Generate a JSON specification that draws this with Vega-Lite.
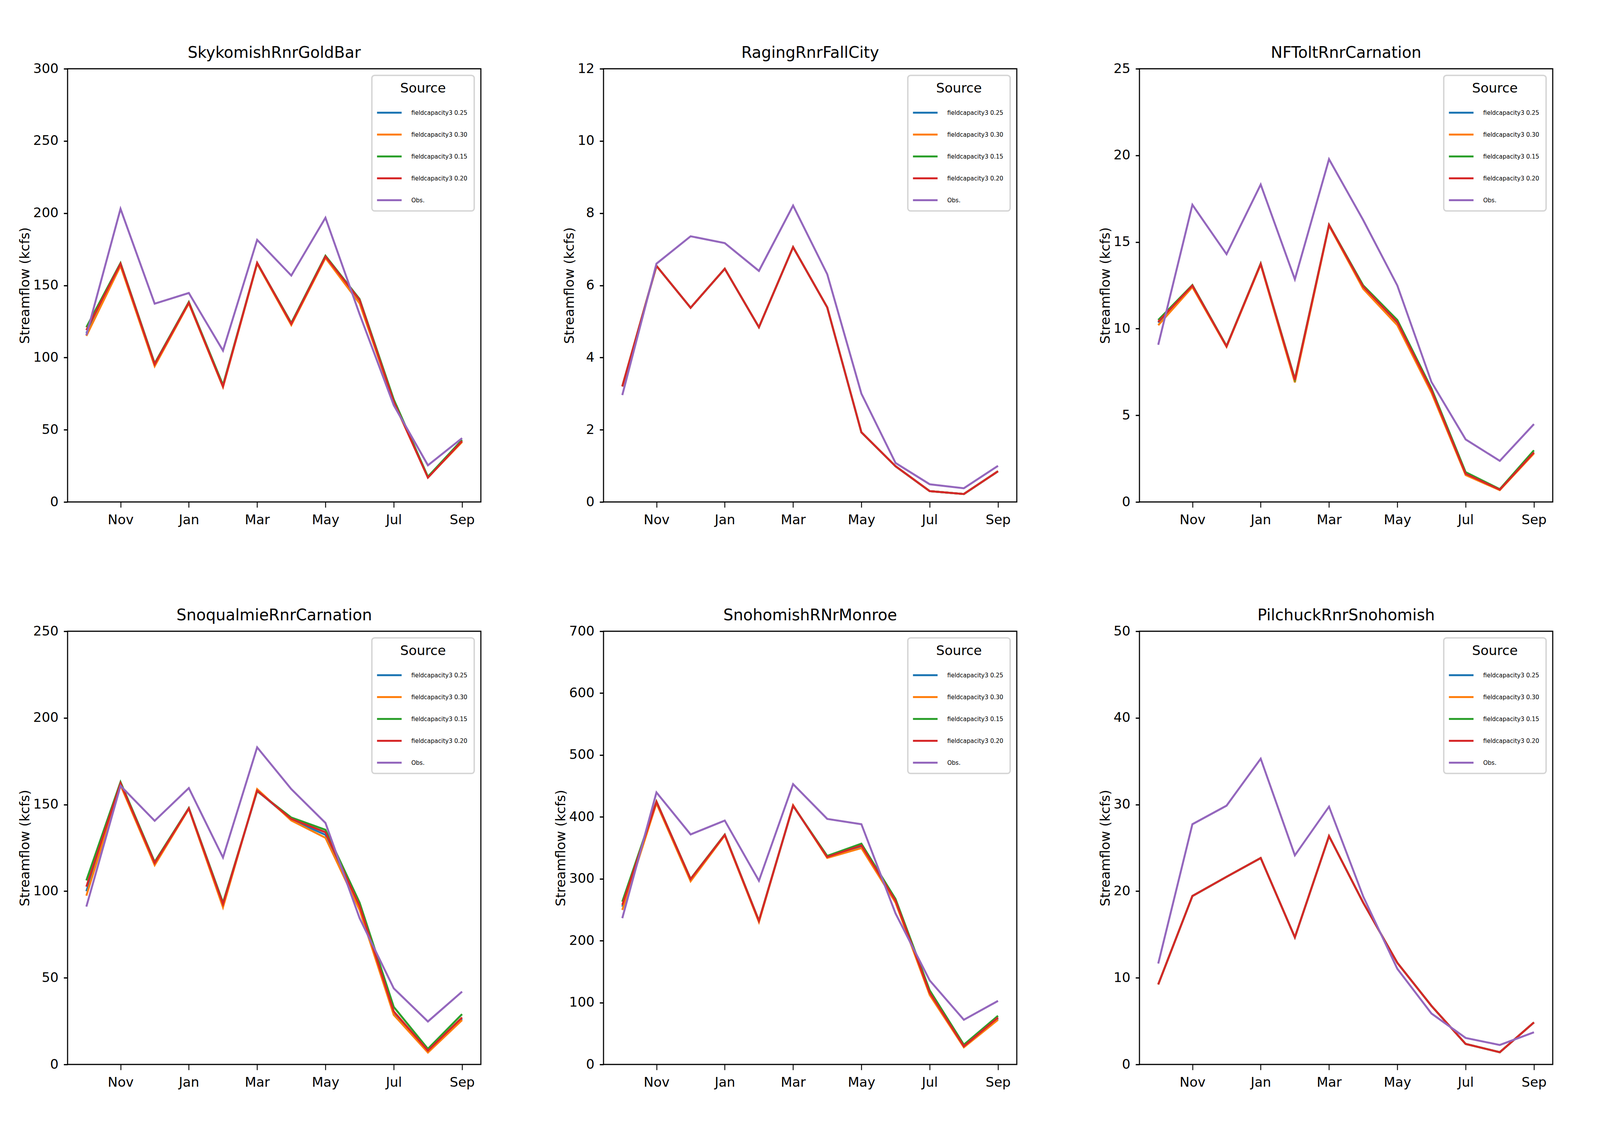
{
"$schema": "https://vega.github.io/schema/vega-lite/v6.json",
"background": "white",
"padding": {"left": 46, "top": 114, "right": 4, "bottom": 4},
"columns": 3,
"bounds": "flush",
"spacing": {"row": 331, "column": 314},
"resolve": {"scale": {"color": "independent", "y": "independent", "x": "independent"}, "legend": {"color": "independent"}},
"config": {
 "font": "DejaVu Sans",
 "view": {"stroke": "black", "strokeWidth": 2.8},
 "axis": {"domain": false, "grid": false, "tickColor": "black", "labelFont": "DejaVu Sans", "labelFontSize": 34, "labelColor": "black", "titleFont": "DejaVu Sans", "titleFontSize": 34, "titleFontWeight": "normal", "titleColor": "black"},
 "axisX": {"labelAngle": 0, "tickSize": 14, "tickWidth": 2.3, "labelPadding": 15},
 "axisY": {"tickSize": 10, "tickWidth": 3.2, "labelPadding": 13.5, "titlePadding": 3},
 "title": {"font": "DejaVu Sans", "fontSize": 40, "fontWeight": "normal", "color": "black", "anchor": "middle", "offset": 3, "baseline": "alphabetic"},
 "legend": {"orient": "top-right", "offset": 17, "padding": 17, "fillColor": "white", "strokeColor": "#d4d4d4", "strokeWidth": 3.5, "cornerRadius": 7, "titleFont": "DejaVu Sans", "titleFontSize": 34, "titleFontWeight": "normal", "titleColor": "black", "titleAnchor": "middle", "titlePadding": 31.5, "labelFont": "DejaVu Sans", "labelFontSize": 15, "labelColor": "black", "labelLimit": 300, "symbolType": "M-3,0H3", "symbolSize": 441, "symbolStrokeWidth": 5, "rowPadding": 33, "symbolOffset": 14.7, "labelOffset": 43.3}
},
"datasets": {
"sky": [
{"month":"Oct","source":"fieldcapacity3 0.25","flow":117},{"month":"Nov","source":"fieldcapacity3 0.25","flow":164.5},{"month":"Dec","source":"fieldcapacity3 0.25","flow":95},{"month":"Jan","source":"fieldcapacity3 0.25","flow":138},{"month":"Feb","source":"fieldcapacity3 0.25","flow":80},{"month":"Mar","source":"fieldcapacity3 0.25","flow":165.5},{"month":"Apr","source":"fieldcapacity3 0.25","flow":123.5},{"month":"May","source":"fieldcapacity3 0.25","flow":170},{"month":"Jun","source":"fieldcapacity3 0.25","flow":139.5},{"month":"Jul","source":"fieldcapacity3 0.25","flow":70},{"month":"Aug","source":"fieldcapacity3 0.25","flow":17},{"month":"Sep","source":"fieldcapacity3 0.25","flow":42},
{"month":"Oct","source":"fieldcapacity3 0.30","flow":115},{"month":"Nov","source":"fieldcapacity3 0.30","flow":163.5},{"month":"Dec","source":"fieldcapacity3 0.30","flow":94},{"month":"Jan","source":"fieldcapacity3 0.30","flow":137.5},{"month":"Feb","source":"fieldcapacity3 0.30","flow":79.5},{"month":"Mar","source":"fieldcapacity3 0.30","flow":165},{"month":"Apr","source":"fieldcapacity3 0.30","flow":122.5},{"month":"May","source":"fieldcapacity3 0.30","flow":169},{"month":"Jun","source":"fieldcapacity3 0.30","flow":137.5},{"month":"Jul","source":"fieldcapacity3 0.30","flow":69},{"month":"Aug","source":"fieldcapacity3 0.30","flow":17},{"month":"Sep","source":"fieldcapacity3 0.30","flow":41.5},
{"month":"Oct","source":"fieldcapacity3 0.15","flow":121},{"month":"Nov","source":"fieldcapacity3 0.15","flow":165.5},{"month":"Dec","source":"fieldcapacity3 0.15","flow":96},{"month":"Jan","source":"fieldcapacity3 0.15","flow":138.5},{"month":"Feb","source":"fieldcapacity3 0.15","flow":81},{"month":"Mar","source":"fieldcapacity3 0.15","flow":165.5},{"month":"Apr","source":"fieldcapacity3 0.15","flow":124},{"month":"May","source":"fieldcapacity3 0.15","flow":170.5},{"month":"Jun","source":"fieldcapacity3 0.15","flow":140.5},{"month":"Jul","source":"fieldcapacity3 0.15","flow":71},{"month":"Aug","source":"fieldcapacity3 0.15","flow":17.5},{"month":"Sep","source":"fieldcapacity3 0.15","flow":43},
{"month":"Oct","source":"fieldcapacity3 0.20","flow":119},{"month":"Nov","source":"fieldcapacity3 0.20","flow":165},{"month":"Dec","source":"fieldcapacity3 0.20","flow":95.4},{"month":"Jan","source":"fieldcapacity3 0.20","flow":138},{"month":"Feb","source":"fieldcapacity3 0.20","flow":80},{"month":"Mar","source":"fieldcapacity3 0.20","flow":165.6},{"month":"Apr","source":"fieldcapacity3 0.20","flow":123.4},{"month":"May","source":"fieldcapacity3 0.20","flow":170},{"month":"Jun","source":"fieldcapacity3 0.20","flow":140},{"month":"Jul","source":"fieldcapacity3 0.20","flow":69.5},{"month":"Aug","source":"fieldcapacity3 0.20","flow":16.8},{"month":"Sep","source":"fieldcapacity3 0.20","flow":42.2},
{"month":"Oct","source":"Obs.","flow":115.5},{"month":"Nov","source":"Obs.","flow":203},{"month":"Dec","source":"Obs.","flow":137.3},{"month":"Jan","source":"Obs.","flow":144.7},{"month":"Feb","source":"Obs.","flow":104.8},{"month":"Mar","source":"Obs.","flow":181.5},{"month":"Apr","source":"Obs.","flow":156.8},{"month":"May","source":"Obs.","flow":196.8},{"month":"Jun","source":"Obs.","flow":130},{"month":"Jul","source":"Obs.","flow":67},{"month":"Aug","source":"Obs.","flow":25.4},{"month":"Sep","source":"Obs.","flow":44.2}
],
"rag": [
{"month":"Oct","source":"fieldcapacity3 0.25","flow":3.2},{"month":"Nov","source":"fieldcapacity3 0.25","flow":6.54},{"month":"Dec","source":"fieldcapacity3 0.25","flow":5.38},{"month":"Jan","source":"fieldcapacity3 0.25","flow":6.46},{"month":"Feb","source":"fieldcapacity3 0.25","flow":4.84},{"month":"Mar","source":"fieldcapacity3 0.25","flow":7.06},{"month":"Apr","source":"fieldcapacity3 0.25","flow":5.39},{"month":"May","source":"fieldcapacity3 0.25","flow":1.93},{"month":"Jun","source":"fieldcapacity3 0.25","flow":0.99},{"month":"Jul","source":"fieldcapacity3 0.25","flow":0.3},{"month":"Aug","source":"fieldcapacity3 0.25","flow":0.22},{"month":"Sep","source":"fieldcapacity3 0.25","flow":0.85},
{"month":"Oct","source":"fieldcapacity3 0.30","flow":3.2},{"month":"Nov","source":"fieldcapacity3 0.30","flow":6.54},{"month":"Dec","source":"fieldcapacity3 0.30","flow":5.38},{"month":"Jan","source":"fieldcapacity3 0.30","flow":6.46},{"month":"Feb","source":"fieldcapacity3 0.30","flow":4.84},{"month":"Mar","source":"fieldcapacity3 0.30","flow":7.06},{"month":"Apr","source":"fieldcapacity3 0.30","flow":5.39},{"month":"May","source":"fieldcapacity3 0.30","flow":1.93},{"month":"Jun","source":"fieldcapacity3 0.30","flow":0.99},{"month":"Jul","source":"fieldcapacity3 0.30","flow":0.3},{"month":"Aug","source":"fieldcapacity3 0.30","flow":0.22},{"month":"Sep","source":"fieldcapacity3 0.30","flow":0.85},
{"month":"Oct","source":"fieldcapacity3 0.15","flow":3.2},{"month":"Nov","source":"fieldcapacity3 0.15","flow":6.54},{"month":"Dec","source":"fieldcapacity3 0.15","flow":5.38},{"month":"Jan","source":"fieldcapacity3 0.15","flow":6.46},{"month":"Feb","source":"fieldcapacity3 0.15","flow":4.84},{"month":"Mar","source":"fieldcapacity3 0.15","flow":7.06},{"month":"Apr","source":"fieldcapacity3 0.15","flow":5.39},{"month":"May","source":"fieldcapacity3 0.15","flow":1.93},{"month":"Jun","source":"fieldcapacity3 0.15","flow":0.99},{"month":"Jul","source":"fieldcapacity3 0.15","flow":0.3},{"month":"Aug","source":"fieldcapacity3 0.15","flow":0.22},{"month":"Sep","source":"fieldcapacity3 0.15","flow":0.85},
{"month":"Oct","source":"fieldcapacity3 0.20","flow":3.2},{"month":"Nov","source":"fieldcapacity3 0.20","flow":6.54},{"month":"Dec","source":"fieldcapacity3 0.20","flow":5.38},{"month":"Jan","source":"fieldcapacity3 0.20","flow":6.46},{"month":"Feb","source":"fieldcapacity3 0.20","flow":4.84},{"month":"Mar","source":"fieldcapacity3 0.20","flow":7.06},{"month":"Apr","source":"fieldcapacity3 0.20","flow":5.39},{"month":"May","source":"fieldcapacity3 0.20","flow":1.93},{"month":"Jun","source":"fieldcapacity3 0.20","flow":0.99},{"month":"Jul","source":"fieldcapacity3 0.20","flow":0.3},{"month":"Aug","source":"fieldcapacity3 0.20","flow":0.22},{"month":"Sep","source":"fieldcapacity3 0.20","flow":0.85},
{"month":"Oct","source":"Obs.","flow":2.96},{"month":"Nov","source":"Obs.","flow":6.6},{"month":"Dec","source":"Obs.","flow":7.36},{"month":"Jan","source":"Obs.","flow":7.17},{"month":"Feb","source":"Obs.","flow":6.4},{"month":"Mar","source":"Obs.","flow":8.21},{"month":"Apr","source":"Obs.","flow":6.31},{"month":"May","source":"Obs.","flow":3.0},{"month":"Jun","source":"Obs.","flow":1.08},{"month":"Jul","source":"Obs.","flow":0.49},{"month":"Aug","source":"Obs.","flow":0.38},{"month":"Sep","source":"Obs.","flow":1.0}
],
"tolt": [
{"month":"Oct","source":"fieldcapacity3 0.25","flow":10.35},{"month":"Nov","source":"fieldcapacity3 0.25","flow":12.47},{"month":"Dec","source":"fieldcapacity3 0.25","flow":8.98},{"month":"Jan","source":"fieldcapacity3 0.25","flow":13.74},{"month":"Feb","source":"fieldcapacity3 0.25","flow":7.0},{"month":"Mar","source":"fieldcapacity3 0.25","flow":15.98},{"month":"Apr","source":"fieldcapacity3 0.25","flow":12.42},{"month":"May","source":"fieldcapacity3 0.25","flow":10.35},{"month":"Jun","source":"fieldcapacity3 0.25","flow":6.42},{"month":"Jul","source":"fieldcapacity3 0.25","flow":1.62},{"month":"Aug","source":"fieldcapacity3 0.25","flow":0.71},{"month":"Sep","source":"fieldcapacity3 0.25","flow":2.86},
{"month":"Oct","source":"fieldcapacity3 0.30","flow":10.2},{"month":"Nov","source":"fieldcapacity3 0.30","flow":12.4},{"month":"Dec","source":"fieldcapacity3 0.30","flow":8.95},{"month":"Jan","source":"fieldcapacity3 0.30","flow":13.7},{"month":"Feb","source":"fieldcapacity3 0.30","flow":6.9},{"month":"Mar","source":"fieldcapacity3 0.30","flow":15.95},{"month":"Apr","source":"fieldcapacity3 0.30","flow":12.3},{"month":"May","source":"fieldcapacity3 0.30","flow":10.2},{"month":"Jun","source":"fieldcapacity3 0.30","flow":6.3},{"month":"Jul","source":"fieldcapacity3 0.30","flow":1.55},{"month":"Aug","source":"fieldcapacity3 0.30","flow":0.68},{"month":"Sep","source":"fieldcapacity3 0.30","flow":2.8},
{"month":"Oct","source":"fieldcapacity3 0.15","flow":10.5},{"month":"Nov","source":"fieldcapacity3 0.15","flow":12.52},{"month":"Dec","source":"fieldcapacity3 0.15","flow":9.0},{"month":"Jan","source":"fieldcapacity3 0.15","flow":13.76},{"month":"Feb","source":"fieldcapacity3 0.15","flow":7.1},{"month":"Mar","source":"fieldcapacity3 0.15","flow":16.0},{"month":"Apr","source":"fieldcapacity3 0.15","flow":12.5},{"month":"May","source":"fieldcapacity3 0.15","flow":10.5},{"month":"Jun","source":"fieldcapacity3 0.15","flow":6.55},{"month":"Jul","source":"fieldcapacity3 0.15","flow":1.72},{"month":"Aug","source":"fieldcapacity3 0.15","flow":0.74},{"month":"Sep","source":"fieldcapacity3 0.15","flow":2.98},
{"month":"Oct","source":"fieldcapacity3 0.20","flow":10.4},{"month":"Nov","source":"fieldcapacity3 0.20","flow":12.49},{"month":"Dec","source":"fieldcapacity3 0.20","flow":8.98},{"month":"Jan","source":"fieldcapacity3 0.20","flow":13.74},{"month":"Feb","source":"fieldcapacity3 0.20","flow":7.05},{"month":"Mar","source":"fieldcapacity3 0.20","flow":15.99},{"month":"Apr","source":"fieldcapacity3 0.20","flow":12.43},{"month":"May","source":"fieldcapacity3 0.20","flow":10.38},{"month":"Jun","source":"fieldcapacity3 0.20","flow":6.45},{"month":"Jul","source":"fieldcapacity3 0.20","flow":1.63},{"month":"Aug","source":"fieldcapacity3 0.20","flow":0.71},{"month":"Sep","source":"fieldcapacity3 0.20","flow":2.86},
{"month":"Oct","source":"Obs.","flow":9.07},{"month":"Nov","source":"Obs.","flow":17.15},{"month":"Dec","source":"Obs.","flow":14.3},{"month":"Jan","source":"Obs.","flow":18.32},{"month":"Feb","source":"Obs.","flow":12.85},{"month":"Mar","source":"Obs.","flow":19.78},{"month":"Apr","source":"Obs.","flow":16.27},{"month":"May","source":"Obs.","flow":12.49},{"month":"Jun","source":"Obs.","flow":6.92},{"month":"Jul","source":"Obs.","flow":3.61},{"month":"Aug","source":"Obs.","flow":2.37},{"month":"Sep","source":"Obs.","flow":4.49}
],
"snoq": [
{"month":"Oct","source":"fieldcapacity3 0.25","flow":100},{"month":"Nov","source":"fieldcapacity3 0.25","flow":161.8},{"month":"Dec","source":"fieldcapacity3 0.25","flow":116},{"month":"Jan","source":"fieldcapacity3 0.25","flow":147.8},{"month":"Feb","source":"fieldcapacity3 0.25","flow":92},{"month":"Mar","source":"fieldcapacity3 0.25","flow":158},{"month":"Apr","source":"fieldcapacity3 0.25","flow":141.3},{"month":"May","source":"fieldcapacity3 0.25","flow":132.5},{"month":"Jun","source":"fieldcapacity3 0.25","flow":90.5},{"month":"Jul","source":"fieldcapacity3 0.25","flow":30},{"month":"Aug","source":"fieldcapacity3 0.25","flow":7.6},{"month":"Sep","source":"fieldcapacity3 0.25","flow":26.4},
{"month":"Oct","source":"fieldcapacity3 0.30","flow":97.4},{"month":"Nov","source":"fieldcapacity3 0.30","flow":161.2},{"month":"Dec","source":"fieldcapacity3 0.30","flow":115},{"month":"Jan","source":"fieldcapacity3 0.30","flow":147.5},{"month":"Feb","source":"fieldcapacity3 0.30","flow":90.7},{"month":"Mar","source":"fieldcapacity3 0.30","flow":158.9},{"month":"Apr","source":"fieldcapacity3 0.30","flow":140.8},{"month":"May","source":"fieldcapacity3 0.30","flow":130.8},{"month":"Jun","source":"fieldcapacity3 0.30","flow":89.2},{"month":"Jul","source":"fieldcapacity3 0.30","flow":28.6},{"month":"Aug","source":"fieldcapacity3 0.30","flow":6.9},{"month":"Sep","source":"fieldcapacity3 0.30","flow":25.6},
{"month":"Oct","source":"fieldcapacity3 0.15","flow":106.2},{"month":"Nov","source":"fieldcapacity3 0.15","flow":163},{"month":"Dec","source":"fieldcapacity3 0.15","flow":116.9},{"month":"Jan","source":"fieldcapacity3 0.15","flow":148},{"month":"Feb","source":"fieldcapacity3 0.15","flow":93.4},{"month":"Mar","source":"fieldcapacity3 0.15","flow":157.7},{"month":"Apr","source":"fieldcapacity3 0.15","flow":142.5},{"month":"May","source":"fieldcapacity3 0.15","flow":135.4},{"month":"Jun","source":"fieldcapacity3 0.15","flow":93.4},{"month":"Jul","source":"fieldcapacity3 0.15","flow":33.2},{"month":"Aug","source":"fieldcapacity3 0.15","flow":9.0},{"month":"Sep","source":"fieldcapacity3 0.15","flow":29.0},
{"month":"Oct","source":"fieldcapacity3 0.20","flow":102.6},{"month":"Nov","source":"fieldcapacity3 0.20","flow":162.3},{"month":"Dec","source":"fieldcapacity3 0.20","flow":116.3},{"month":"Jan","source":"fieldcapacity3 0.20","flow":147.8},{"month":"Feb","source":"fieldcapacity3 0.20","flow":92.6},{"month":"Mar","source":"fieldcapacity3 0.20","flow":158},{"month":"Apr","source":"fieldcapacity3 0.20","flow":141.7},{"month":"May","source":"fieldcapacity3 0.20","flow":134},{"month":"Jun","source":"fieldcapacity3 0.20","flow":91.5},{"month":"Jul","source":"fieldcapacity3 0.20","flow":30.6},{"month":"Aug","source":"fieldcapacity3 0.20","flow":8.0},{"month":"Sep","source":"fieldcapacity3 0.20","flow":27.1},
{"month":"Oct","source":"Obs.","flow":91.1},{"month":"Nov","source":"Obs.","flow":160.8},{"month":"Dec","source":"Obs.","flow":140.6},{"month":"Jan","source":"Obs.","flow":159.5},{"month":"Feb","source":"Obs.","flow":119.4},{"month":"Mar","source":"Obs.","flow":183},{"month":"Apr","source":"Obs.","flow":158.9},{"month":"May","source":"Obs.","flow":139.4},{"month":"Jun","source":"Obs.","flow":84.4},{"month":"Jul","source":"Obs.","flow":43.9},{"month":"Aug","source":"Obs.","flow":24.8},{"month":"Sep","source":"Obs.","flow":42}
],
"snoh": [
{"month":"Oct","source":"fieldcapacity3 0.25","flow":255},{"month":"Nov","source":"fieldcapacity3 0.25","flow":424},{"month":"Dec","source":"fieldcapacity3 0.25","flow":298.5},{"month":"Jan","source":"fieldcapacity3 0.25","flow":371},{"month":"Feb","source":"fieldcapacity3 0.25","flow":231.5},{"month":"Mar","source":"fieldcapacity3 0.25","flow":418},{"month":"Apr","source":"fieldcapacity3 0.25","flow":335},{"month":"May","source":"fieldcapacity3 0.25","flow":352},{"month":"Jun","source":"fieldcapacity3 0.25","flow":263},{"month":"Jul","source":"fieldcapacity3 0.25","flow":114.4},{"month":"Aug","source":"fieldcapacity3 0.25","flow":29},{"month":"Sep","source":"fieldcapacity3 0.25","flow":74.3},
{"month":"Oct","source":"fieldcapacity3 0.30","flow":249.7},{"month":"Nov","source":"fieldcapacity3 0.30","flow":422},{"month":"Dec","source":"fieldcapacity3 0.30","flow":296},{"month":"Jan","source":"fieldcapacity3 0.30","flow":370},{"month":"Feb","source":"fieldcapacity3 0.30","flow":230},{"month":"Mar","source":"fieldcapacity3 0.30","flow":419},{"month":"Apr","source":"fieldcapacity3 0.30","flow":333.7},{"month":"May","source":"fieldcapacity3 0.30","flow":349.7},{"month":"Jun","source":"fieldcapacity3 0.30","flow":261.5},{"month":"Jul","source":"fieldcapacity3 0.30","flow":112.3},{"month":"Aug","source":"fieldcapacity3 0.30","flow":27.8},{"month":"Sep","source":"fieldcapacity3 0.30","flow":72.2},
{"month":"Oct","source":"fieldcapacity3 0.15","flow":263},{"month":"Nov","source":"fieldcapacity3 0.15","flow":425},{"month":"Dec","source":"fieldcapacity3 0.15","flow":300},{"month":"Jan","source":"fieldcapacity3 0.15","flow":371.5},{"month":"Feb","source":"fieldcapacity3 0.15","flow":232.5},{"month":"Mar","source":"fieldcapacity3 0.15","flow":418},{"month":"Apr","source":"fieldcapacity3 0.15","flow":337},{"month":"May","source":"fieldcapacity3 0.15","flow":356.7},{"month":"Jun","source":"fieldcapacity3 0.15","flow":267.4},{"month":"Jul","source":"fieldcapacity3 0.15","flow":119.8},{"month":"Aug","source":"fieldcapacity3 0.15","flow":32},{"month":"Sep","source":"fieldcapacity3 0.15","flow":78.6},
{"month":"Oct","source":"fieldcapacity3 0.20","flow":257.8},{"month":"Nov","source":"fieldcapacity3 0.20","flow":424.6},{"month":"Dec","source":"fieldcapacity3 0.20","flow":299.5},{"month":"Jan","source":"fieldcapacity3 0.20","flow":371},{"month":"Feb","source":"fieldcapacity3 0.20","flow":232},{"month":"Mar","source":"fieldcapacity3 0.20","flow":418.2},{"month":"Apr","source":"fieldcapacity3 0.20","flow":335.3},{"month":"May","source":"fieldcapacity3 0.20","flow":354},{"month":"Jun","source":"fieldcapacity3 0.20","flow":264.7},{"month":"Jul","source":"fieldcapacity3 0.20","flow":116},{"month":"Aug","source":"fieldcapacity3 0.20","flow":29.4},{"month":"Sep","source":"fieldcapacity3 0.20","flow":75.9},
{"month":"Oct","source":"Obs.","flow":236.4},{"month":"Nov","source":"Obs.","flow":439.6},{"month":"Dec","source":"Obs.","flow":371.7},{"month":"Jan","source":"Obs.","flow":394.1},{"month":"Feb","source":"Obs.","flow":296.8},{"month":"Mar","source":"Obs.","flow":453},{"month":"Apr","source":"Obs.","flow":396.8},{"month":"May","source":"Obs.","flow":388.2},{"month":"Jun","source":"Obs.","flow":244},{"month":"Jul","source":"Obs.","flow":135.8},{"month":"Aug","source":"Obs.","flow":72.2},{"month":"Sep","source":"Obs.","flow":102.7}
],
"pil": [
{"month":"Oct","source":"fieldcapacity3 0.25","flow":9.24},{"month":"Nov","source":"fieldcapacity3 0.25","flow":19.44},{"month":"Dec","source":"fieldcapacity3 0.25","flow":21.66},{"month":"Jan","source":"fieldcapacity3 0.25","flow":23.83},{"month":"Feb","source":"fieldcapacity3 0.25","flow":14.67},{"month":"Mar","source":"fieldcapacity3 0.25","flow":26.36},{"month":"Apr","source":"fieldcapacity3 0.25","flow":18.68},{"month":"May","source":"fieldcapacity3 0.25","flow":11.73},{"month":"Jun","source":"fieldcapacity3 0.25","flow":6.76},{"month":"Jul","source":"fieldcapacity3 0.25","flow":2.37},{"month":"Aug","source":"fieldcapacity3 0.25","flow":1.41},{"month":"Sep","source":"fieldcapacity3 0.25","flow":4.85},
{"month":"Oct","source":"fieldcapacity3 0.30","flow":9.24},{"month":"Nov","source":"fieldcapacity3 0.30","flow":19.44},{"month":"Dec","source":"fieldcapacity3 0.30","flow":21.66},{"month":"Jan","source":"fieldcapacity3 0.30","flow":23.83},{"month":"Feb","source":"fieldcapacity3 0.30","flow":14.67},{"month":"Mar","source":"fieldcapacity3 0.30","flow":26.36},{"month":"Apr","source":"fieldcapacity3 0.30","flow":18.68},{"month":"May","source":"fieldcapacity3 0.30","flow":11.73},{"month":"Jun","source":"fieldcapacity3 0.30","flow":6.76},{"month":"Jul","source":"fieldcapacity3 0.30","flow":2.37},{"month":"Aug","source":"fieldcapacity3 0.30","flow":1.41},{"month":"Sep","source":"fieldcapacity3 0.30","flow":4.85},
{"month":"Oct","source":"fieldcapacity3 0.15","flow":9.24},{"month":"Nov","source":"fieldcapacity3 0.15","flow":19.44},{"month":"Dec","source":"fieldcapacity3 0.15","flow":21.66},{"month":"Jan","source":"fieldcapacity3 0.15","flow":23.83},{"month":"Feb","source":"fieldcapacity3 0.15","flow":14.67},{"month":"Mar","source":"fieldcapacity3 0.15","flow":26.36},{"month":"Apr","source":"fieldcapacity3 0.15","flow":18.68},{"month":"May","source":"fieldcapacity3 0.15","flow":11.73},{"month":"Jun","source":"fieldcapacity3 0.15","flow":6.76},{"month":"Jul","source":"fieldcapacity3 0.15","flow":2.37},{"month":"Aug","source":"fieldcapacity3 0.15","flow":1.41},{"month":"Sep","source":"fieldcapacity3 0.15","flow":4.85},
{"month":"Oct","source":"fieldcapacity3 0.20","flow":9.24},{"month":"Nov","source":"fieldcapacity3 0.20","flow":19.44},{"month":"Dec","source":"fieldcapacity3 0.20","flow":21.66},{"month":"Jan","source":"fieldcapacity3 0.20","flow":23.83},{"month":"Feb","source":"fieldcapacity3 0.20","flow":14.67},{"month":"Mar","source":"fieldcapacity3 0.20","flow":26.36},{"month":"Apr","source":"fieldcapacity3 0.20","flow":18.68},{"month":"May","source":"fieldcapacity3 0.20","flow":11.73},{"month":"Jun","source":"fieldcapacity3 0.20","flow":6.76},{"month":"Jul","source":"fieldcapacity3 0.20","flow":2.37},{"month":"Aug","source":"fieldcapacity3 0.20","flow":1.41},{"month":"Sep","source":"fieldcapacity3 0.20","flow":4.85},
{"month":"Oct","source":"Obs.","flow":11.65},{"month":"Nov","source":"Obs.","flow":27.73},{"month":"Dec","source":"Obs.","flow":29.87},{"month":"Jan","source":"Obs.","flow":35.29},{"month":"Feb","source":"Obs.","flow":24.14},{"month":"Mar","source":"Obs.","flow":29.76},{"month":"Apr","source":"Obs.","flow":19.4},{"month":"May","source":"Obs.","flow":11.04},{"month":"Jun","source":"Obs.","flow":5.88},{"month":"Jul","source":"Obs.","flow":3.06},{"month":"Aug","source":"Obs.","flow":2.25},{"month":"Sep","source":"Obs.","flow":3.71}
]
},
"concat": [
{"title": "SkykomishRnrGoldBar", "data": {"name": "sky"}, "width": 1058, "height": 1109, "mark": {"type": "line", "strokeWidth": 5},
 "encoding": {
  "x": {"field": "month", "type": "ordinal", "sort": ["Oct","Nov","Dec","Jan","Feb","Mar","Apr","May","Jun","Jul","Aug","Sep"], "scale": {"type": "point", "padding": 0.55}, "axis": {"values": ["Nov","Jan","Mar","May","Jul","Sep"], "title": null}},
  "y": {"field": "flow", "type": "quantitative", "scale": {"domain": [0, 300], "nice": false}, "axis": {"values": [0,50,100,150,200,250,300], "title": "Streamflow (kcfs)"}},
  "color": {"field": "source", "type": "nominal", "scale": {"domain": ["fieldcapacity3 0.25","fieldcapacity3 0.30","fieldcapacity3 0.15","fieldcapacity3 0.20","Obs."], "range": ["#1f77b4","#ff7f0e","#2ca02c","#d62728","#9467bd"]}, "legend": {"title": "Source"}}
 }},
{"title": "RagingRnrFallCity", "data": {"name": "rag"}, "width": 1058, "height": 1109, "mark": {"type": "line", "strokeWidth": 5},
 "encoding": {
  "x": {"field": "month", "type": "ordinal", "sort": ["Oct","Nov","Dec","Jan","Feb","Mar","Apr","May","Jun","Jul","Aug","Sep"], "scale": {"type": "point", "padding": 0.55}, "axis": {"values": ["Nov","Jan","Mar","May","Jul","Sep"], "title": null}},
  "y": {"field": "flow", "type": "quantitative", "scale": {"domain": [0, 12], "nice": false}, "axis": {"values": [0,2,4,6,8,10,12], "title": "Streamflow (kcfs)"}},
  "color": {"field": "source", "type": "nominal", "scale": {"domain": ["fieldcapacity3 0.25","fieldcapacity3 0.30","fieldcapacity3 0.15","fieldcapacity3 0.20","Obs."], "range": ["#1f77b4","#ff7f0e","#2ca02c","#d62728","#9467bd"]}, "legend": {"title": "Source"}}
 }},
{"title": "NFToltRnrCarnation", "data": {"name": "tolt"}, "width": 1058, "height": 1109, "mark": {"type": "line", "strokeWidth": 5},
 "encoding": {
  "x": {"field": "month", "type": "ordinal", "sort": ["Oct","Nov","Dec","Jan","Feb","Mar","Apr","May","Jun","Jul","Aug","Sep"], "scale": {"type": "point", "padding": 0.55}, "axis": {"values": ["Nov","Jan","Mar","May","Jul","Sep"], "title": null}},
  "y": {"field": "flow", "type": "quantitative", "scale": {"domain": [0, 25], "nice": false}, "axis": {"values": [0,5,10,15,20,25], "title": "Streamflow (kcfs)"}},
  "color": {"field": "source", "type": "nominal", "scale": {"domain": ["fieldcapacity3 0.25","fieldcapacity3 0.30","fieldcapacity3 0.15","fieldcapacity3 0.20","Obs."], "range": ["#1f77b4","#ff7f0e","#2ca02c","#d62728","#9467bd"]}, "legend": {"title": "Source"}}
 }},
{"title": "SnoqualmieRnrCarnation", "data": {"name": "snoq"}, "width": 1058, "height": 1109, "mark": {"type": "line", "strokeWidth": 5},
 "encoding": {
  "x": {"field": "month", "type": "ordinal", "sort": ["Oct","Nov","Dec","Jan","Feb","Mar","Apr","May","Jun","Jul","Aug","Sep"], "scale": {"type": "point", "padding": 0.55}, "axis": {"values": ["Nov","Jan","Mar","May","Jul","Sep"], "title": null}},
  "y": {"field": "flow", "type": "quantitative", "scale": {"domain": [0, 250], "nice": false}, "axis": {"values": [0,50,100,150,200,250], "title": "Streamflow (kcfs)"}},
  "color": {"field": "source", "type": "nominal", "scale": {"domain": ["fieldcapacity3 0.25","fieldcapacity3 0.30","fieldcapacity3 0.15","fieldcapacity3 0.20","Obs."], "range": ["#1f77b4","#ff7f0e","#2ca02c","#d62728","#9467bd"]}, "legend": {"title": "Source"}}
 }},
{"title": "SnohomishRNrMonroe", "data": {"name": "snoh"}, "width": 1058, "height": 1109, "mark": {"type": "line", "strokeWidth": 5},
 "encoding": {
  "x": {"field": "month", "type": "ordinal", "sort": ["Oct","Nov","Dec","Jan","Feb","Mar","Apr","May","Jun","Jul","Aug","Sep"], "scale": {"type": "point", "padding": 0.55}, "axis": {"values": ["Nov","Jan","Mar","May","Jul","Sep"], "title": null}},
  "y": {"field": "flow", "type": "quantitative", "scale": {"domain": [0, 700], "nice": false}, "axis": {"values": [0,100,200,300,400,500,600,700], "title": "Streamflow (kcfs)"}},
  "color": {"field": "source", "type": "nominal", "scale": {"domain": ["fieldcapacity3 0.25","fieldcapacity3 0.30","fieldcapacity3 0.15","fieldcapacity3 0.20","Obs."], "range": ["#1f77b4","#ff7f0e","#2ca02c","#d62728","#9467bd"]}, "legend": {"title": "Source"}}
 }},
{"title": "PilchuckRnrSnohomish", "data": {"name": "pil"}, "width": 1058, "height": 1109, "mark": {"type": "line", "strokeWidth": 5},
 "encoding": {
  "x": {"field": "month", "type": "ordinal", "sort": ["Oct","Nov","Dec","Jan","Feb","Mar","Apr","May","Jun","Jul","Aug","Sep"], "scale": {"type": "point", "padding": 0.55}, "axis": {"values": ["Nov","Jan","Mar","May","Jul","Sep"], "title": null}},
  "y": {"field": "flow", "type": "quantitative", "scale": {"domain": [0, 50], "nice": false}, "axis": {"values": [0,10,20,30,40,50], "title": "Streamflow (kcfs)"}},
  "color": {"field": "source", "type": "nominal", "scale": {"domain": ["fieldcapacity3 0.25","fieldcapacity3 0.30","fieldcapacity3 0.15","fieldcapacity3 0.20","Obs."], "range": ["#1f77b4","#ff7f0e","#2ca02c","#d62728","#9467bd"]}, "legend": {"title": "Source"}}
 }}
]
}
